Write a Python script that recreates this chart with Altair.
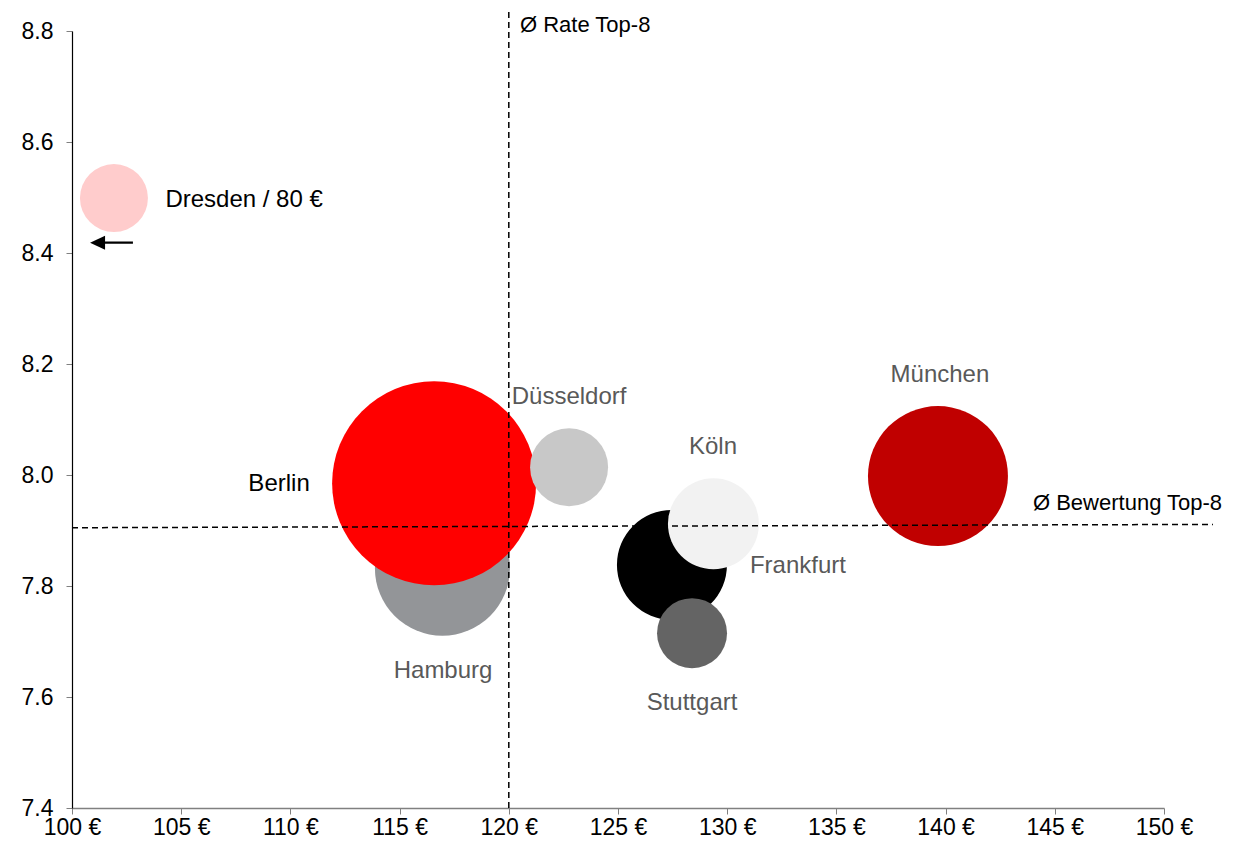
import altair as alt
import pandas as pd

# --- data ---
cities = ["Dresden", "Hamburg", "Berlin", "Düsseldorf", "Frankfurt", "Köln", "Stuttgart", "München"]
rate = [101.92, 116.96, 116.58, 122.76, 127.47, 129.37, 128.39, 139.65]      # Ø rate in €
rating = [8.499, 7.832, 7.985, 8.014, 7.838, 7.912, 7.715, 7.998]            # Ø rating
weight = [1156, 4556, 10404, 1521, 3025, 2070, 1225, 4900]                   # bubble size (relative)
fills = ["#FFCCCC", "#939598", "#FF0000", "#C8C8C8", "#000000", "#F2F2F2", "#646464", "#C00000"]
draw_order = [1, 2, 3, 4, 5, 6, 7, 8]

label_text = ["Dresden / 80 €", "Hamburg", "Berlin", "Düsseldorf", "Frankfurt", "Köln", "Stuttgart", "München"]
label_x = [107.88, 116.99, 109.48, 122.76, 133.24, 129.35, 128.39, 139.74]
label_y = [8.495, 7.647, 7.984, 8.141, 7.836, 8.050, 7.589, 8.180]
label_color = ["#000000", "#595959", "#000000", "#595959", "#595959", "#595959", "#595959", "#595959"]

ref_text = ["Ø Rate Top-8", "Ø Bewertung Top-8"]
ref_text_x = [120.51, 144.0]
ref_text_y = [8.811, 7.950]

# reference lines: vertical Ø rate, horizontal Ø rating
ref_x1 = [120.0, 100.0]
ref_x2 = [120.0, 152.24]
ref_y1 = [7.4, 7.905]
ref_y2 = [8.84, 7.911]

# arrow next to Dresden (price below axis range)
arrow_x1 = [102.79]
arrow_x2 = [101.17]
arrow_y = [8.4186]

x_ticks = list(range(100, 151, 5))
y_ticks = [7.4, 7.6, 7.8, 8.0, 8.2, 8.4, 8.6, 8.8]

FONT = "Liberation Sans"

bub = pd.DataFrame({"city": cities, "rate": rate, "rating": rating, "weight": weight,
                    "fill": fills, "draw": draw_order})
lab = pd.DataFrame({"text": label_text, "rate": label_x, "rating": label_y, "col": label_color})
reft = pd.DataFrame({"text": ref_text, "rate": ref_text_x, "rating": ref_text_y})
refl = pd.DataFrame({"rate": ref_x1, "rate2": ref_x2, "rating": ref_y1, "rating2": ref_y2})
arr = pd.DataFrame({"rate": arrow_x1, "rate2": arrow_x2, "rating": arrow_y})

xscale = alt.Scale(domain=[100, 150], nice=False, zero=False)
yscale = alt.Scale(domain=[7.4, 8.8], nice=False, zero=False)

xaxis = alt.Axis(values=x_ticks, labelExpr="datum.value + ' €'", grid=False, title=None,
                 domainColor="#808080", tickColor="#808080", tickSize=6, labelPadding=2,
                 labelFlush=False, labelOverlap=False,
                 labelFont=FONT, labelFontSize=23, labelColor="#000000", domainWidth=1.5)
yaxis = alt.Axis(values=y_ticks, format=".1f", grid=False, title=None,
                 domainColor="#000000", tickColor="#808080", tickSize=6, labelPadding=13,
                 labelFlush=False, labelOverlap=False,
                 labelFont=FONT, labelFontSize=23, labelColor="#000000", domainWidth=1.2)

X = alt.X("rate:Q", scale=xscale, axis=xaxis)
Y = alt.Y("rating:Q", scale=yscale, axis=yaxis)

max_w = max(weight)
# Vega circle: radius = sqrt(size)/2  ->  size = 4 r^2 ; weight ~ r^2
bubbles = alt.Chart(bub).mark_circle(opacity=1).encode(
    x=X, y=Y,
    size=alt.Size("weight:Q", scale=alt.Scale(domain=[0, max_w], range=[0, 4 * max_w]), legend=None),
    color=alt.Color("fill:N", scale=None),
    order=alt.Order("draw:Q"),
)

ref_lines = alt.Chart(refl).mark_rule(strokeDash=[6, 4], strokeWidth=1.5, color="#000000").encode(
    x="rate:Q", x2="rate2:Q", y="rating:Q", y2="rating2:Q"
)

labels = alt.Chart(lab).mark_text(font=FONT, fontSize=24, align="center", baseline="middle").encode(
    x="rate:Q", y="rating:Q", text="text:N", color=alt.Color("col:N", scale=None)
)

ref_labels = alt.Chart(reft).mark_text(font=FONT, fontSize=22, align="left", baseline="middle",
                                       color="#000000").encode(
    x="rate:Q", y="rating:Q", text="text:N"
)

arrow_line = alt.Chart(arr).mark_rule(strokeWidth=2.2, color="#000000").encode(
    x="rate:Q", x2="rate2:Q", y="rating:Q"
)
arrow_head = alt.Chart(arr).mark_point(shape="M -1 0 L 1 -0.93 L 1 0.93 Z", filled=True, size=225,
                                       color="#000000", opacity=1).encode(
    x="rate2:Q", y="rating:Q"
)

chart = alt.layer(bubbles, ref_lines, labels, ref_labels, arrow_line, arrow_head).properties(
    width=1092, height=777,
    autosize=alt.AutoSizeParams(type="none"),
    padding={"left": 64, "top": 23, "right": 60, "bottom": 33},
).configure_view(stroke=None)

chart.save("out.html", embed_options={"renderer": "svg", "actions": False})
